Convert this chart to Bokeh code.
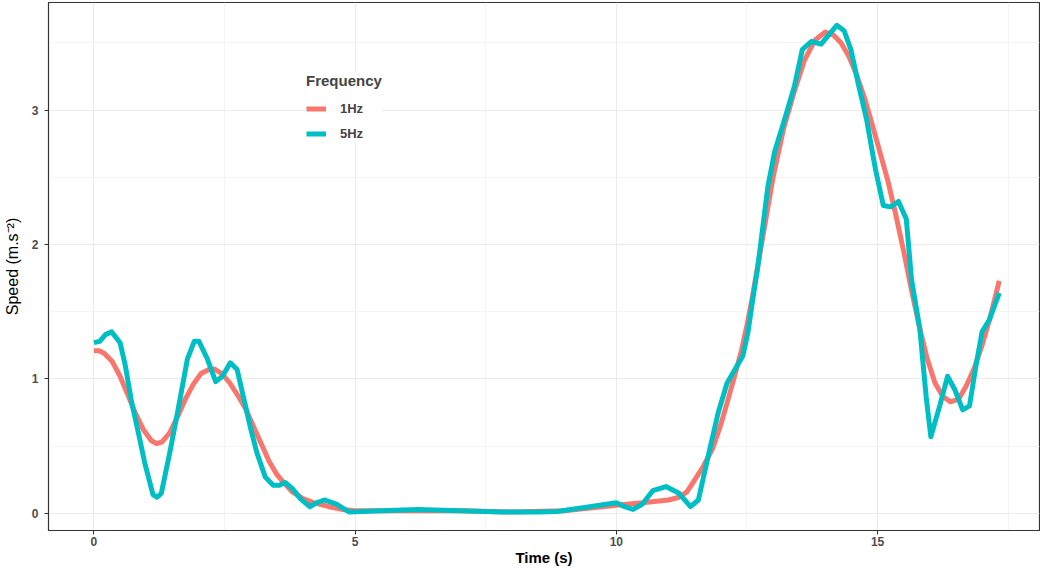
from bokeh.plotting import figure
from bokeh.models import Range1d, FixedTicker, Legend, LegendItem
from bokeh.embed import file_html
from bokeh.resources import INLINE

# 1Hz series (time s, speed)
t_1hz = [0.0, 0.1, 0.2, 0.35, 0.5, 0.65, 0.8, 0.95, 1.1, 1.2, 1.3, 1.45, 1.6, 1.75, 1.9,
         2.05, 2.2, 2.3, 2.45, 2.6, 2.75, 2.9, 3.05, 3.2, 3.35, 3.5, 3.65, 3.8, 4.0, 4.2,
         4.5, 4.75, 5.0, 6.0, 7.0, 8.0, 9.0, 9.5, 10.0, 10.5, 11.0, 11.2, 11.35, 11.5,
         11.65, 11.84, 12.0, 12.14, 12.27, 12.4, 12.5, 12.6, 12.8, 13.0, 13.2, 13.4, 13.6,
         13.8, 14.0, 14.15, 14.3, 14.45, 14.6, 14.75, 14.9, 15.05, 15.2, 15.35, 15.5,
         15.65, 15.8, 15.95, 16.1, 16.25, 16.4, 16.55, 16.7, 16.85, 17.0, 17.15, 17.33]
v_1hz = [1.21, 1.21, 1.19, 1.13, 1.02, 0.88, 0.74, 0.62, 0.54, 0.52, 0.53, 0.6, 0.72, 0.85,
         0.96, 1.04, 1.07, 1.075, 1.04, 0.97, 0.88, 0.78, 0.65, 0.52, 0.39, 0.29, 0.22,
         0.16, 0.11, 0.08, 0.05, 0.03, 0.02, 0.02, 0.02, 0.01, 0.02, 0.04, 0.06, 0.08, 0.1,
         0.12, 0.16, 0.25, 0.34, 0.48, 0.66, 0.85, 1.03, 1.22, 1.4, 1.6, 2.05, 2.5, 2.86,
         3.13, 3.37, 3.52, 3.58, 3.56, 3.5, 3.4, 3.26, 3.09, 2.89, 2.68, 2.47, 2.22, 1.95,
         1.66, 1.39, 1.15, 0.97, 0.87, 0.83, 0.85, 0.95, 1.08, 1.25, 1.45, 1.73]

# 5Hz series
t_5hz = [0.0, 0.11, 0.22, 0.34, 0.5, 0.6, 0.72, 0.85, 0.97, 1.13, 1.21, 1.29, 1.45, 1.6,
         1.79, 1.92, 2.01, 2.17, 2.33, 2.46, 2.61, 2.74, 2.93, 3.0, 3.12, 3.28, 3.43, 3.55,
         3.66, 3.81, 3.95, 4.13, 4.27, 4.41, 4.64, 4.89, 5.5, 6.2, 7.0, 7.8, 8.5, 8.86,
         9.49, 10.0, 10.16, 10.32, 10.5, 10.7, 10.95, 11.2, 11.42, 11.57, 11.76, 11.95,
         12.12, 12.27, 12.42, 12.52, 12.61, 12.71, 12.9, 13.03, 13.22, 13.41, 13.56, 13.73,
         13.92, 14.11, 14.22, 14.36, 14.49, 14.64, 14.79, 14.96, 15.11, 15.25, 15.4, 15.55,
         15.65, 15.81, 15.93, 16.02, 16.19, 16.34, 16.48, 16.63, 16.76, 16.88, 17.0, 17.14,
         17.33]
v_5hz = [1.27, 1.28, 1.33, 1.35, 1.27, 1.1, 0.83, 0.6, 0.38, 0.14, 0.12, 0.15, 0.45, 0.75,
         1.15, 1.28, 1.28, 1.15, 0.98, 1.02, 1.12, 1.07, 0.75, 0.63, 0.45, 0.27, 0.21, 0.21,
         0.23, 0.18, 0.11, 0.05, 0.08, 0.1, 0.07, 0.01, 0.02, 0.03, 0.02, 0.01, 0.01, 0.015,
         0.05, 0.08, 0.05, 0.03, 0.07, 0.17, 0.2, 0.15, 0.05, 0.1, 0.43, 0.75, 0.97, 1.07,
         1.17, 1.35, 1.59, 1.84, 2.43, 2.69, 2.93, 3.18, 3.45, 3.51, 3.49, 3.58, 3.63, 3.59,
         3.45, 3.18, 2.93, 2.56, 2.29, 2.28, 2.32, 2.19, 1.74, 1.37, 0.87, 0.57, 0.8, 1.02,
         0.92, 0.77, 0.8, 1.09, 1.35, 1.44, 1.64]

series_names = ["1Hz", "5Hz"]
series_colors = ["#F8766D", "#00BFC4"]
x_ticks = [0, 5, 10, 15]
y_ticks = [0, 1, 2, 3]

p = figure(width=1040, height=568, output_backend="svg", toolbar_location=None,
           x_range=Range1d(-0.87, 18.1), y_range=Range1d(-0.127, 3.80),
           min_border_left=39, min_border_right=1, min_border_top=2, min_border_bottom=20)

p.background_fill_color = "white"
p.border_fill_color = "white"
p.outline_line_color = "#333333"
p.outline_line_width = 1.2

for ax in (p.xaxis[0], p.yaxis[0]):
    ax.major_label_text_font = "Liberation Sans"
    ax.major_label_text_font_size = "12px"
    ax.major_label_text_font_style = "bold"
    ax.major_label_text_color = "#4D4D4D"
    ax.axis_label_text_font = "Liberation Sans"
    ax.axis_label_text_font_size = "16px"
    ax.axis_label_text_color = "black"
    ax.axis_line_color = "#333333"
    ax.major_tick_line_color = "#333333"
    ax.major_tick_out = 4
    ax.major_tick_in = 0
    ax.minor_tick_line_color = None

p.xaxis.ticker = FixedTicker(ticks=x_ticks, minor_ticks=[2.5, 7.5, 12.5, 17.5])
p.yaxis.ticker = FixedTicker(ticks=y_ticks, minor_ticks=[0.5, 1.5, 2.5, 3.5])
p.xaxis.axis_label = "Time (s)"
p.xaxis.axis_label_text_font_style = "bold"
p.xaxis.axis_label_text_font_size = "15px"
p.xaxis.axis_label_standoff = 0
p.yaxis.axis_label = "Speed (m.s\u207b\u00b2)"
p.yaxis.axis_label_text_font_style = "normal"
p.yaxis.axis_label_standoff = 8
p.xaxis.major_label_standoff = 2
p.yaxis.major_label_standoff = 6

p.xgrid.grid_line_color = "#EBEBEB"
p.ygrid.grid_line_color = "#EBEBEB"
p.xgrid.minor_grid_line_color = "#F4F4F4"
p.ygrid.minor_grid_line_color = "#F4F4F4"

r1 = p.line(t_1hz, v_1hz, line_color=series_colors[0], line_width=5, line_join="round")
r2 = p.line(t_5hz, v_5hz, line_color=series_colors[1], line_width=5, line_join="round")

legend = Legend(items=[LegendItem(label=series_names[0], renderers=[r1]),
                       LegendItem(label=series_names[1], renderers=[r2])],
                location=(258, 387), title="Frequency")
legend.title_text_font = "Liberation Sans"
legend.title_text_font_style = "bold"
legend.title_text_font_size = "15px"
legend.label_text_font = "Liberation Sans"
legend.label_text_font_style = "bold"
legend.label_text_font_size = "13px"
legend.border_line_color = None
legend.background_fill_color = "white"
legend.background_fill_alpha = 1
legend.glyph_width = 20
legend.glyph_height = 19
legend.label_standoff = 14
legend.spacing = 6
legend.padding = 8
legend.title_standoff = 10
p.add_layout(legend, "center")

open("out.html", "w").write(file_html(p, INLINE))
